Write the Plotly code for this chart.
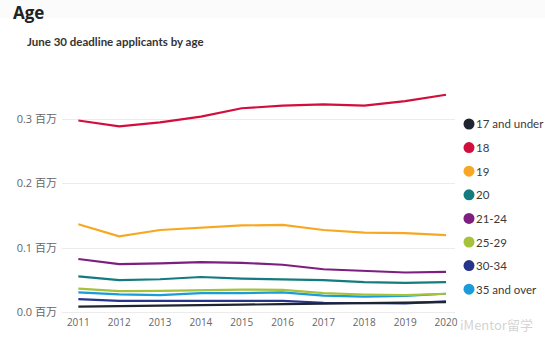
import plotly.graph_objects as go

years = [2011, 2012, 2013, 2014, 2015, 2016, 2017, 2018, 2019, 2020]

# June 30 deadline applicants, in millions, by age group
age_17_under = [0.009, 0.0095, 0.010, 0.0115, 0.012, 0.013, 0.014, 0.015, 0.015, 0.016]
age_18 = [0.298, 0.289, 0.295, 0.304, 0.317, 0.321, 0.323, 0.321, 0.328, 0.338]
age_19 = [0.137, 0.118, 0.128, 0.132, 0.135, 0.136, 0.128, 0.124, 0.123, 0.120]
age_20 = [0.056, 0.050, 0.0515, 0.055, 0.0525, 0.0515, 0.050, 0.047, 0.046, 0.047]
age_21_24 = [0.083, 0.075, 0.076, 0.078, 0.077, 0.074, 0.067, 0.064, 0.062, 0.063]
age_25_29 = [0.037, 0.033, 0.0335, 0.035, 0.0355, 0.035, 0.030, 0.0278, 0.0268, 0.029]
age_30_34 = [0.0205, 0.018, 0.018, 0.018, 0.018, 0.018, 0.015, 0.014, 0.014, 0.017]
age_35_over = [0.031, 0.028, 0.027, 0.030, 0.030, 0.031, 0.026, 0.0245, 0.0256, 0.029]

series_names = ["17 and under", "18", "19", "20", "21-24", "25-29", "30-34", "35 and over"]
series_values = [age_17_under, age_18, age_19, age_20, age_21_24, age_25_29, age_30_34, age_35_over]
series_colors = ["#1e2430", "#d20f3c", "#f7a823", "#147b7e", "#7d1f80",
                 "#a4c23a", "#26348a", "#1b9bd8"]

y_ticks = [0.0, 0.1, 0.2, 0.3]
y_tick_labels = ["0.0 百万", "0.1 百万", "0.2 百万", "0.3 百万"]

W, H = 545, 340
ML, MR, MT, MB = 62, 90, 87, 25
PW, PH = W - ML - MR, H - MT - MB


def px_x(px):
    """Pixel column -> paper x."""
    return (px - ML) / PW


def px_y(py):
    """Pixel row (from top) -> paper y."""
    return (H - MB - py) / PH


fig = go.Figure()

# Lines (drawn back-to-front so the main series sit on top)
for name, vals, col in reversed(list(zip(series_names, series_values, series_colors))):
    fig.add_trace(go.Scatter(
        x=years, y=vals, mode="lines", name=name,
        line=dict(color=col, width=2.2),
        showlegend=False, hoverinfo="x+y+name",
    ))

# Compact legend on the right: a coloured dot followed by the label
shapes = [dict(type="rect", xref="paper", yref="paper",
               x0=px_x(-10), x1=px_x(W + 10), y0=px_y(18), y1=px_y(-10),
               fillcolor="#fbfbfb", line=dict(width=0), layer="below")]
annotations = []
r = 5.5
for i, (name, col) in enumerate(zip(series_names, series_colors)):
    cy = 124 + 23.6 * i
    cx = 469
    shapes.append(dict(type="circle", xref="paper", yref="paper",
                       x0=px_x(cx - r), x1=px_x(cx + r),
                       y0=px_y(cy + r), y1=px_y(cy - r),
                       fillcolor=col, line=dict(width=0)))
    annotations.append(dict(text=name, xref="paper", yref="paper",
                            x=px_x(cx + r - 1), y=px_y(cy), xanchor="left",
                            yanchor="middle", showarrow=False,
                            font=dict(size=11.5, color="#3a3a3a",
                                      family="Lato, sans-serif")))

annotations += [
    dict(text="<b>Age</b>", xref="paper", yref="paper",
         x=px_x(11), y=px_y(-1), xanchor="left", yanchor="top", showarrow=False,
         font=dict(size=17, color="#222", family="Open Sans, sans-serif")),
    dict(text="<b>June 30 deadline applicants by age</b>", xref="paper", yref="paper",
         x=px_x(25), y=px_y(42), xanchor="left", yanchor="middle", showarrow=False,
         font=dict(size=11.5, color="#333", family="Lato, Open Sans, sans-serif")),
    dict(text="iMentor留学", xref="paper", yref="paper",
         x=px_x(458), y=px_y(324), xanchor="left", yanchor="middle", showarrow=False,
         font=dict(size=13, color="rgba(200,200,200,0.8)",
                   family="Noto Sans CJK SC, sans-serif")),
]

fig.update_layout(
    width=W, height=H,
    margin=dict(l=ML, r=MR, t=MT, b=MB, autoexpand=False),
    paper_bgcolor="white", plot_bgcolor="white",
    font=dict(family="Open Sans, Noto Sans CJK SC, sans-serif", color="#555"),
    showlegend=False,
    xaxis=dict(
        range=[2010.6, 2020.22], tickvals=years,
        ticktext=[str(y) for y in years],
        showgrid=False, zeroline=False, showline=False,
        tickfont=dict(size=10, color="#666"), ticks="",
    ),
    yaxis=dict(
        range=[-0.004, 0.35], tickvals=y_ticks, ticktext=y_tick_labels,
        showgrid=True, gridcolor="#ececec", gridwidth=1, zeroline=False,
        tickfont=dict(size=11, color="#666"), ticks="", ticklabelstandoff=4,
    ),
    shapes=shapes,
    annotations=annotations,
)

fig.write_html("out.html")
